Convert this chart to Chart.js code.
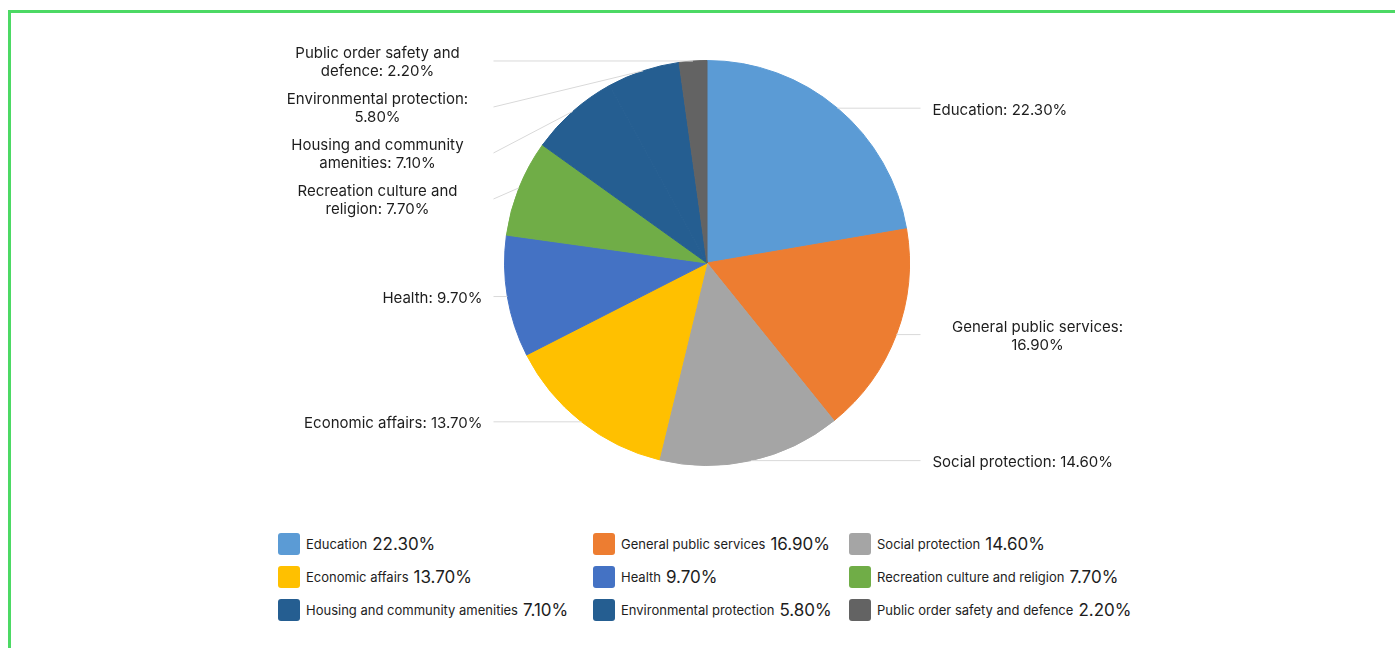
<!DOCTYPE html>
<html>
<head>
<meta charset="utf-8">
<script src="https://cdn.jsdelivr.net/npm/chart.js@4/dist/chart.umd.min.js"></script>
<style>
  html, body { margin: 0; padding: 0; background: #fff; overflow: hidden; }
  body { width: 1395px; height: 648px; position: relative; font-family: Inter, "Noto Sans", sans-serif; }
  .frame { position: absolute; left: 8px; top: 10px; width: 1400px; height: 700px; border: 3px solid #4cd964; box-sizing: border-box; }
  #pie { position: absolute; left: 0; top: 0; }
  #legend {
    position: absolute; left: 278px; top: 527px;
    display: grid; grid-template-columns: 315px 256px auto; grid-auto-rows: 33px;
    color: #1d1d1d;
  }
  .item { display: flex; align-items: center; white-space: nowrap; }
  .box { width: 22px; height: 22px; border-radius: 3px; margin-right: 6px; flex: none; }
  .name { font-size: 13px; }
  .val { font-size: 17px; margin-left: 5px; }
</style>
</head>
<body>
<div class="frame"></div>
<canvas id="pie" width="1395" height="520"></canvas>
<div id="legend"></div>
<script>
const categories = [
  'Education',
  'General public services',
  'Social protection',
  'Economic affairs',
  'Health',
  'Recreation culture and religion',
  'Housing and community amenities',
  'Environmental protection',
  'Public order safety and defence'
];
const shares = [22.3, 16.9, 14.6, 13.7, 9.7, 7.7, 7.1, 5.8, 2.2];
const colors = ['#5b9bd5', '#ed7d31', '#a5a5a5', '#ffc000', '#4472c4', '#70ad47', '#255e91', '#255e91', '#636363'];

function fmt(v) { return v.toFixed(2) + '%'; }

// wrap words into lines no wider than maxW
function wrap(ctx, text, maxW) {
  const words = text.split(' ');
  const lines = [];
  let cur = '';
  words.forEach(function (w) {
    const test = cur ? cur + ' ' + w : w;
    if (cur && ctx.measureText(test).width > maxW) {
      lines.push(cur);
      cur = w;
    } else {
      cur = test;
    }
  });
  lines.push(cur);
  return lines;
}

const outerLabels = {
  id: 'outerLabels',
  afterDatasetsDraw(chart) {
    const ctx = chart.ctx;
    const meta = chart.getDatasetMeta(0);
    const lineH = 18, maxW = 210;
    ctx.save();
    ctx.font = '15px Inter, "Noto Sans", sans-serif';
    const items = meta.data.map(function (arc, i) {
      const p = arc.getProps(['x', 'y', 'startAngle', 'endAngle', 'outerRadius'], true);
      const mid = (p.startAngle + p.endAngle) / 2;
      return {
        cx: p.x, cy: p.y, r: p.outerRadius,
        px: p.x + Math.cos(mid) * p.outerRadius,
        py: p.y + Math.sin(mid) * p.outerRadius,
        right: Math.cos(mid) >= 0,
        lines: wrap(ctx, categories[i] + ': ' + fmt(shares[i]), maxW)
      };
    });
    [true, false].forEach(function (side) {
      const list = items.filter(function (it) { return it.right === side; })
        .sort(function (a, b) { return a.py - b.py; });
      let prev = null;
      list.forEach(function (it) {
        it.ly = it.py;
        if (prev) {
          const need = (prev.lines.length + it.lines.length) * lineH / 2 + 10;
          it.ly = Math.max(it.py, prev.ly + need);
        }
        prev = it;
      });
    });
    items.forEach(function (it) {
      const dir = it.right ? 1 : -1;
      ctx.strokeStyle = '#d9d9d9';
      ctx.lineWidth = 1;
      ctx.beginPath();
      ctx.moveTo(it.px, it.py);
      ctx.lineTo(it.cx + dir * (it.r + 11), it.ly);
      ctx.stroke();

      ctx.fillStyle = '#1d1d1d';
      ctx.textBaseline = 'middle';
      const edge = it.cx + dir * (it.r + (it.right ? 23 : 22));
      const top = it.ly + 2 - (it.lines.length - 1) * lineH / 2;
      it.lines.forEach(function (ln, k) {
        if (it.lines.length > 1) {
          ctx.textAlign = 'center';
          ctx.fillText(ln, edge + dir * maxW / 2, top + k * lineH);
        } else {
          ctx.textAlign = it.right ? 'left' : 'right';
          ctx.fillText(ln, edge, top + k * lineH);
        }
      });
    });
    ctx.restore();
  }
};

new Chart(document.getElementById('pie'), {
  type: 'pie',
  data: {
    labels: categories,
    datasets: [{
      data: shares,
      backgroundColor: colors,
      borderColor: colors,
      borderWidth: 1
    }]
  },
  options: {
    responsive: false,
    animation: false,
    layout: { padding: { top: 60, bottom: 54, left: 19, right: 0 } },
    plugins: {
      legend: { display: false },
      tooltip: { enabled: false }
    }
  },
  plugins: [outerLabels]
});

// html legend
const legend = document.getElementById('legend');
categories.forEach(function (c, i) {
  const el = document.createElement('div');
  el.className = 'item';
  el.innerHTML = '<span class="box" style="background:' + colors[i] + '"></span>' +
    '<span class="name">' + c + '</span><span class="val">' + fmt(shares[i]) + '</span>';
  legend.appendChild(el);
});
</script>
</body>
</html>
